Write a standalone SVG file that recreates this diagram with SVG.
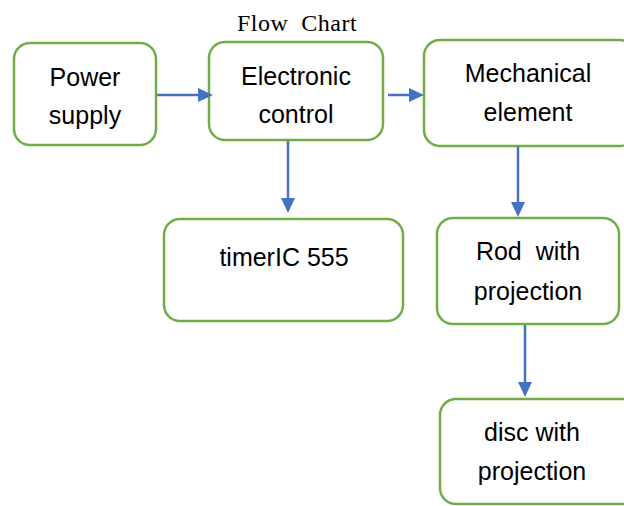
<svg xmlns="http://www.w3.org/2000/svg" width="624" height="506" viewBox="0 0 624 506">
<defs>
<style>
.box{fill:#fff;stroke:#70AD47;stroke-width:2.5}
.lbl{font-family:"Liberation Sans",Arial,sans-serif;font-size:25px;fill:#000;text-anchor:middle}
.title{font-family:"Liberation Serif","Times New Roman",serif;font-size:24px;fill:#000;text-anchor:middle;white-space:pre}
.con{stroke:#4472C4;stroke-width:2.5;fill:none}
.head{fill:#4472C4}
</style>
</defs>
<rect width="624" height="506" fill="#fff"/>
<text class="title" x="297" y="31" xml:space="preserve" letter-spacing="0.5">Flow  Chart</text>
<g id="power"><rect class="box" x="14" y="43" width="142" height="102" rx="16"/><text class="lbl" x="85" y="86">Power</text><text class="lbl" x="85" y="124">supply</text></g>
<g id="electronic"><rect class="box" x="209" y="42" width="174" height="98" rx="16"/><text class="lbl" x="296" y="85">Electronic</text><text class="lbl" x="296" y="123">control</text></g>
<g id="mechanical"><rect class="box" x="424" y="40" width="212" height="106" rx="16"/><text class="lbl" x="528" y="82">Mechanical</text><text class="lbl" x="528" y="121">element</text></g>
<g id="timer"><rect class="box" x="164" y="219" width="239" height="102" rx="16"/><text class="lbl" x="284" y="266">timerIC 555</text></g>
<g id="rod"><rect class="box" x="437" y="218" width="182" height="106" rx="16"/><text class="lbl" x="528" y="260" xml:space="preserve">Rod  with</text><text class="lbl" x="528" y="300">projection</text></g>
<g id="disc"><rect class="box" x="440" y="399" width="200" height="105" rx="16"/><text class="lbl" x="532" y="441">disc with</text><text class="lbl" x="532" y="480">projection</text></g>
<g id="connectors">
<line class="con" x1="157" y1="95" x2="200" y2="95"/><polygon class="head" points="198,88 213,95 198,102"/>
<line class="con" x1="388" y1="95" x2="411" y2="95"/><polygon class="head" points="409,88 424,95 409,102"/>
<line class="con" x1="288" y1="141" x2="288" y2="200"/><polygon class="head" points="281,198 288,213 295,198"/>
<line class="con" x1="518" y1="147" x2="518" y2="204"/><polygon class="head" points="511,202 518,217 525,202"/>
<line class="con" x1="525" y1="325" x2="525" y2="384"/><polygon class="head" points="518,382 525,397 532,382"/>
</g>
</svg>
